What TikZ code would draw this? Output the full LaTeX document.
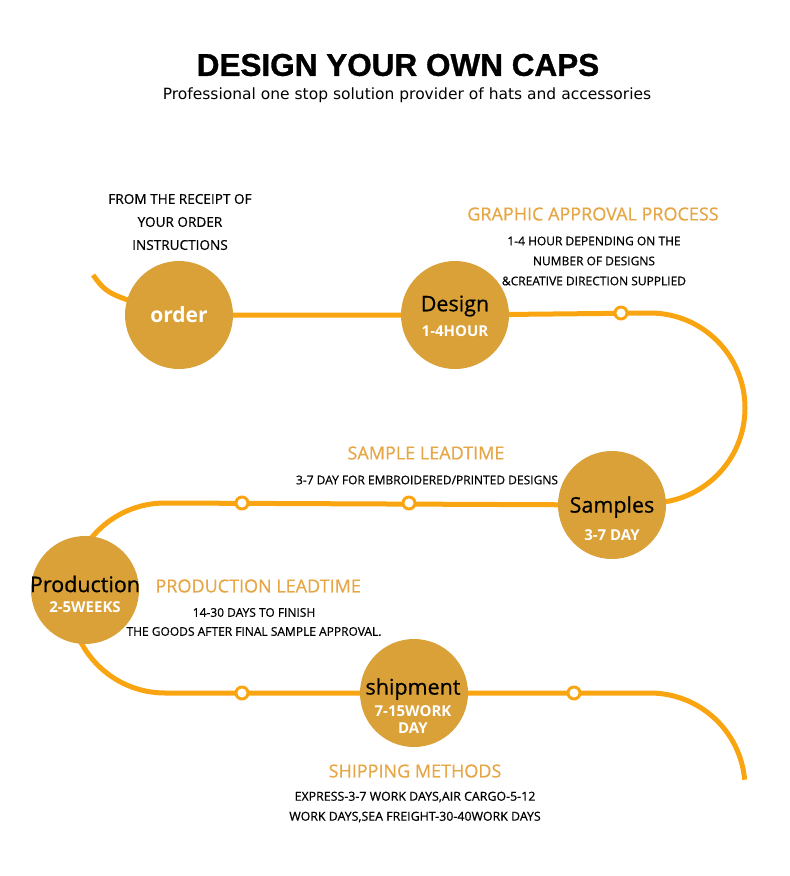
\documentclass[tikz,border=0pt]{standalone}
\usepackage{fontspec}
\usetikzlibrary{backgrounds}
\setmainfont{Open Sans}
\newfontfamily\semifont[FakeBold=0.6]{Open Sans}
\newfontfamily\titlefont[FakeBold=1]{Liberation Sans}
\newfontfamily\subfont{DejaVu Sans}
\definecolor{gold}{HTML}{D9A138}
\definecolor{track}{HTML}{F9A512}
\definecolor{headtxt}{HTML}{E6A645}
\tikzset{
  step circle/.style={circle,fill=gold,minimum size=108pt,inner sep=0pt},
  track line/.style={draw=track,line width=5pt},
  ring/.style={circle,draw=track,fill=white,line width=3pt,minimum size=12pt,inner sep=0pt},
  head/.style={text=headtxt,font=\semifont\fontsize{18}{20}\selectfont},
  note/.style={align=center,font=\semifont\fontsize{12}{20}\selectfont},
  big/.style={font=\semifont\fontsize{21.5}{24}\selectfont},
  small/.style={text=white,font=\fontsize{15}{17}\selectfont\bfseries},
}
\begin{document}
\begin{tikzpicture}[x=1pt,y=1pt,line join=round,line cap=round]
	\useasboundingbox (0,0) rectangle (790,-876);
	% stations
	\node[step circle] (order) at (179,-315) {};
	\node[step circle] (design) at (455,-315) {};
	\node[step circle] (samples) at (612,-505) {};
	\node[step circle] (production) at (85,-590) {};
	\node[step circle] (shipment) at (414,-693) {};
	\coordinate (start) at (93,-275);
	% the track
	\begin{pgfonlayer}{background}
	\path[track line] (start) .. controls (108,-295) .. (order.center)
		-- (design.center) -- (650,-313) arc[start angle=90,end angle=-90,radius=95]
		-- (samples.center) -- (165,-503) arc[start angle=90,end angle=270,radius=95]
		-- (shipment.center) -- (650,-693) arc[start angle=90,end angle=5,radius=95];
	\end{pgfonlayer}
	\node[ring] (r1) at (621,-313) {};
	\node[ring] (r2) at (409,-503) {};
	\node[ring] (r3) at (242,-503) {};
	\node[ring] (r4) at (242,-693) {};
	\node[ring] (r5) at (574,-693) {};
	% circle labels
	\node[text=white,font=\fontsize{21}{24}\selectfont\bfseries] at (order) {order};
	\node[big] at (455,-306) {Design};
	\node[small] at (455,-331) {1-4HOUR};
	\node[big] at (612,-507) {Samples};
	\node[small] at (612,-535) {3-7 DAY};
	\node[big] at (85,-584) {Production};
	\node[small] at (85,-607) {2-5WEEKS};
	\node[big] at (413,-689) {shipment};
	\node[small,align=center,font=\fontsize{15}{17}\selectfont\bfseries] at (413,-720) {7-15WORK\\DAY};
	% titles
	\node[font=\titlefont\fontsize{31.5}{34}\selectfont\bfseries] (title) at (398,-65) {DESIGN YOUR OWN CAPS};
	\node[font=\subfont\fontsize{15.5}{18}\selectfont] (sub) at (407,-95) {Professional one stop solution provider of hats and accessories};
	% notes
	\node[note,font=\semifont\fontsize{13.6}{23}\selectfont] at (180,-222) {FROM THE RECEIPT OF\\YOUR ORDER\\INSTRUCTIONS};
	\node[head] at (593,-214) {GRAPHIC APPROVAL PROCESS};
	\node[note] at (594,-261) {1-4 HOUR DEPENDING ON THE\\NUMBER OF DESIGNS\\\&CREATIVE DIRECTION SUPPLIED};
	\node[head] at (426,-453) {SAMPLE LEADTIME};
	\node[note] at (427,-480) {3-7 DAY FOR EMBROIDERED/PRINTED DESIGNS};
	\node[head,anchor=west] at (152,-586) {PRODUCTION LEADTIME};
	\node[note,font=\semifont\fontsize{12}{19}\selectfont] at (254,-622) {14-30 DAYS TO FINISH\\THE GOODS AFTER FINAL SAMPLE APPROVAL.};
	\node[head] at (415,-771) {SHIPPING METHODS};
	\node[note,font=\semifont\fontsize{12.4}{20}\selectfont] at (415,-807) {EXPRESS-3-7 WORK DAYS,AIR CARGO-5-12\\WORK DAYS,SEA FREIGHT-30-40WORK DAYS};
\end{tikzpicture}
\end{document}
